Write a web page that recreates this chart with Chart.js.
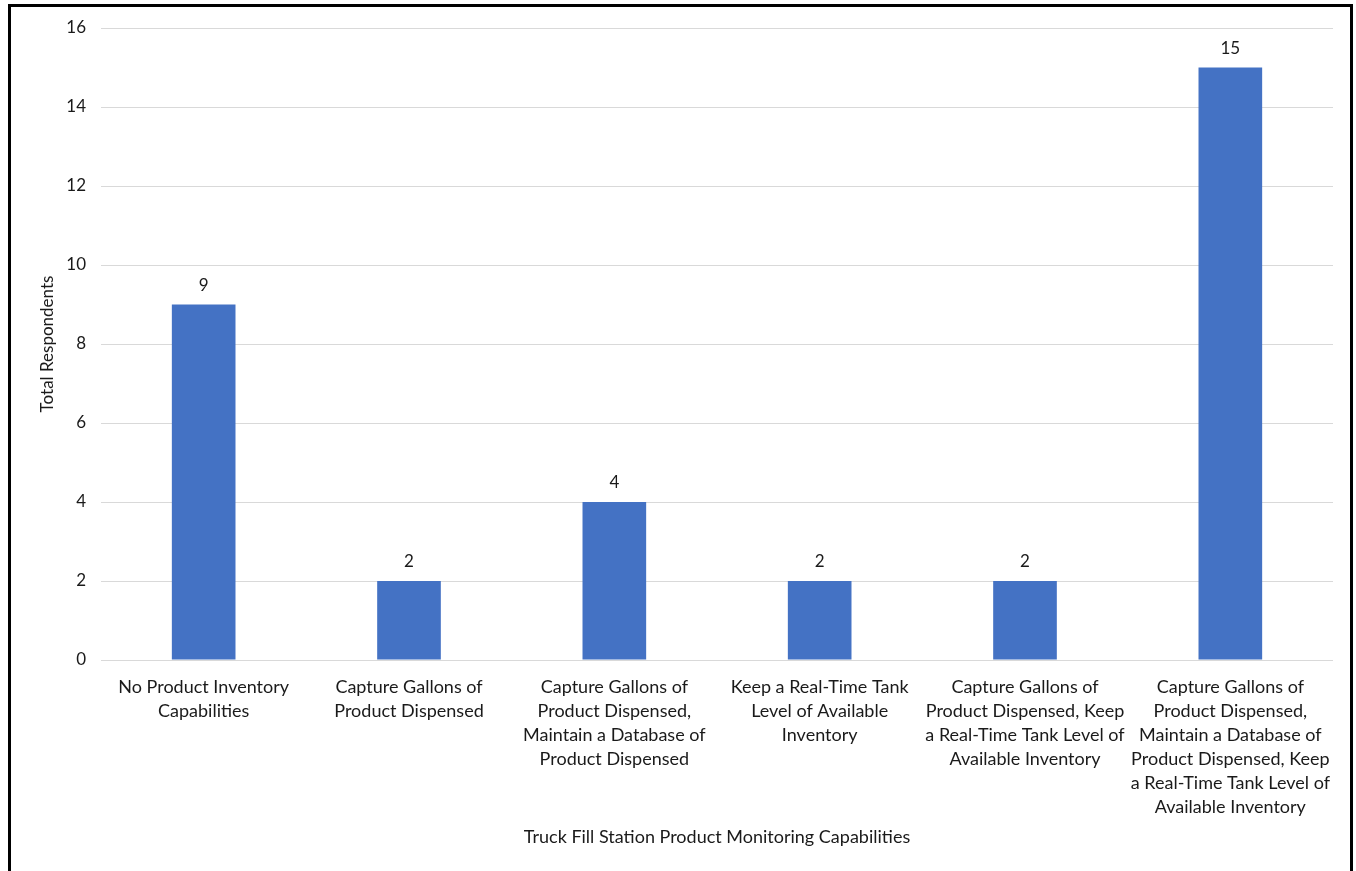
<!DOCTYPE html>
<html>
<head>
<meta charset="utf-8">
<script src="https://cdn.jsdelivr.net/npm/chart.js@4.4.0/dist/chart.umd.min.js"></script>
<style>
    html, body { margin: 0; padding: 0; background: #fff; }
    #frame {
        position: absolute;
        left: 8px; top: 4px;
        width: 1339px; height: 864px;
        border-top: 3px solid #000;
        border-left: 3px solid #000;
        border-right: 3px solid #000;
        border-bottom: 1px solid #d9d9d9;
    }
    #wrap { position: absolute; left: 0; top: 0; width: 1356px; height: 871px; }
</style>
</head>
<body>
<div id="frame"></div>
<div id="wrap"><canvas id="myChart"></canvas></div>
<script>
let categories = [
    ['No Product Inventory', 'Capabilities'],
    ['Capture Gallons of', 'Product Dispensed'],
    ['Capture Gallons of', 'Product Dispensed,', 'Maintain a Database of', 'Product Dispensed'],
    ['Keep a Real-Time Tank', 'Level of Available', 'Inventory'],
    ['Capture Gallons of', 'Product Dispensed, Keep', 'a Real-Time Tank Level of', 'Available Inventory'],
    ['Capture Gallons of', 'Product Dispensed,', 'Maintain a Database of', 'Product Dispensed, Keep', 'a Real-Time Tank Level of', 'Available Inventory']
];
let respondents = [9, 2, 4, 2, 2, 15];
let yTicks = [0, 2, 4, 6, 8, 10, 12, 14, 16];

let textColor = '#1a1a1a';
let fontFamily = 'Lato, "Open Sans", sans-serif';

// value labels above each bar
let barValues = {
    id: 'barValues',
    afterDatasetsDraw(chart) {
        let ctx = chart.ctx;
        let meta = chart.getDatasetMeta(0);
        ctx.save();
        ctx.fillStyle = textColor;
        ctx.font = '17px ' + fontFamily;
        ctx.textAlign = 'center';
        ctx.textBaseline = 'middle';
        meta.data.forEach(function (bar, i) {
            ctx.fillText(chart.data.datasets[0].data[i], bar.x, bar.y - 19);
        });
        ctx.restore();
    }
};

const ctx = document.getElementById('myChart');

new Chart(ctx, {
    type: 'bar',
    data: {
        labels: categories,
        datasets: [{
            data: respondents,
            backgroundColor: '#4472c4',
            borderWidth: 0,
            categoryPercentage: 1,
            barPercentage: 0.31,
        }]
    },
    options: {
        responsive: true,
        maintainAspectRatio: false,
        animation: false,
        layout: {
            padding: { left: 0, right: 23, top: 28, bottom: 0 }
        },
        scales: {
            y: {
                min: 0,
                max: 16,
                afterBuildTicks: function (scale) {
                    scale.ticks = yTicks.map(v => ({ value: v }));
                },
                afterFit: function (scale) {
                    scale.width = 101;
                },
                border: { display: false },
                grid: {
                    color: '#d9d9d9',
                    lineWidth: 1,
                    drawTicks: false,
                },
                ticks: {
                    color: textColor,
                    padding: 15,
                    font: { family: fontFamily, size: 17 }
                },
                title: {
                    display: true,
                    text: 'Total Respondents',
                    color: textColor,
                    padding: { top: 37, bottom: 0 },
                    font: { family: fontFamily, size: 17, lineHeight: 1.2 }
                }
            },
            x: {
                afterFit: function (scale) {
                    scale.height = 211;
                },
                border: { display: false },
                grid: { display: false },
                ticks: {
                    color: textColor,
                    padding: 7,
                    maxRotation: 0,
                    autoSkip: false,
                    font: { family: fontFamily, size: 18, lineHeight: 1.333 }
                },
                title: {
                    display: true,
                    text: 'Truck Fill Station Product Monitoring Capabilities',
                    color: textColor,
                    padding: { top: 0, bottom: 23 },
                    font: { family: fontFamily, size: 18, lineHeight: 1.2 }
                }
            }
        },
        plugins: {
            legend: { display: false },
            tooltip: { enabled: false }
        }
    },
    plugins: [barValues]
});
</script>
</body>
</html>
